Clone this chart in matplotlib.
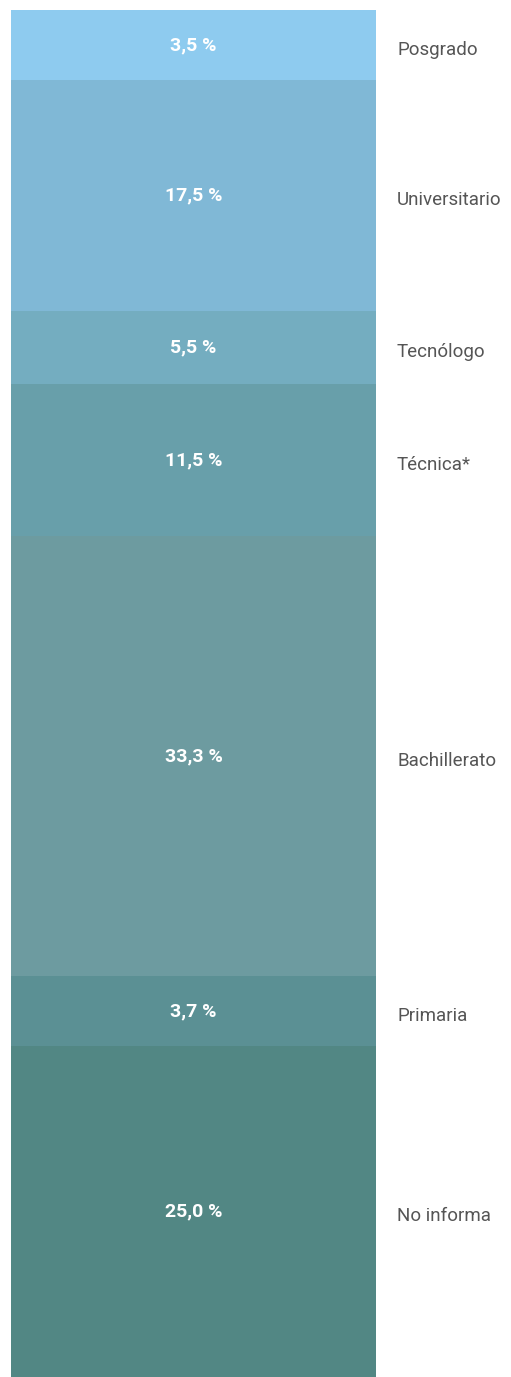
import matplotlib
matplotlib.use("Agg")
import matplotlib.pyplot as plt
import matplotlib.transforms as mtransforms

# share of people by education level (top to bottom)
categories = ["Posgrado", "Universitario", "Tecnólogo", "Técnica*",
              "Bachillerato", "Primaria", "No informa"]
shares = [3.5, 17.5, 5.5, 11.5, 33.3, 3.7, 25.0]

COLORS = ["#8ECBEF", "#80B8D6", "#74ADC0", "#689FAA",
          "#6D9BA0", "#5B9094", "#528784"]
MIN_SEG = 5.3  # small segments get a floor so the label fits

heights = [max(v, MIN_SEG) for v in shares]
tops = []
acc = 0.0
for h in heights:
    tops.append(acc)
    acc += h

fig = plt.figure(figsize=(5.11, 13.77), dpi=100)
fig.patch.set_facecolor("white")
ax = fig.add_axes([11 / 511, 0, 365 / 511, 1367 / 1377])

ax.bar([0] * len(shares), heights, bottom=tops, width=1.0,
       color=COLORS, edgecolor="none", linewidth=0)
ax.set_xlim(-0.5, 0.5)
ax.set_ylim(acc, 0)
ax.axis("off")

trans = mtransforms.blended_transform_factory(ax.transAxes, ax.transData)
lbl_x = (397 - 11) / 365
for cat, v, t, h in zip(categories, shares, tops, heights):
    yc = t + h / 2
    txt = f"{v:.1f}".replace(".", ",") + " %"
    ax.text(0.0, yc, txt, ha="center", va="center", color="white",
            fontsize=14, fontweight="bold", family="Roboto")
    ax.text(lbl_x, yc + 0.35, cat, transform=trans, ha="left", va="center",
            color="#555555", fontsize=13.5, family="Roboto")

fig.savefig("out.png", dpi=100, facecolor="white")
